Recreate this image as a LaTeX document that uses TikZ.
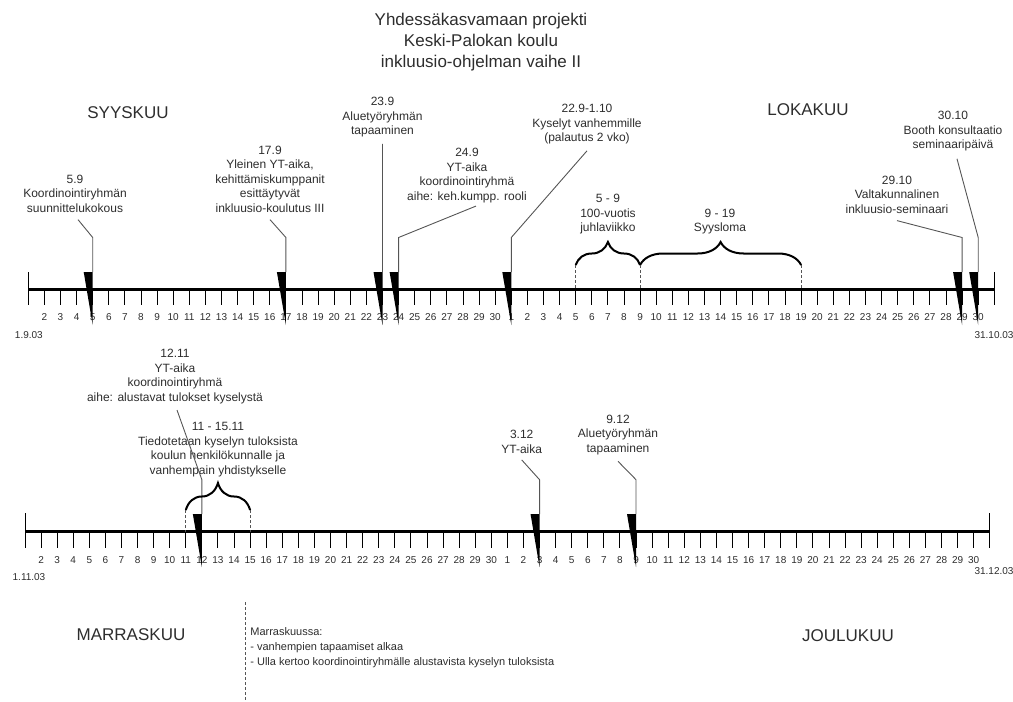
\documentclass[tikz,border=0pt]{standalone}
\usepackage{fontspec}
\setmainfont{Liberation Sans}
\usetikzlibrary{decorations.pathreplacing}
\definecolor{txtgray}{RGB}{45,45,45}
\definecolor{linegray}{RGB}{85,85,85}
\tikzset{every picture/.style={line width=0.75pt}}
\tikzset{
  evt/.style={align=center, inner sep=0pt, text=txtgray, font=\fontsize{12}{14.5}\selectfont},
  month/.style={inner sep=0pt, text=txtgray, font=\fontsize{17}{21}\selectfont},
  daynum/.style={inner sep=0pt, text=txtgray, font=\fontsize{10}{12}\selectfont},
  conn/.style={draw=linegray, line width=0.9pt},
  daytick/.style={line width=1pt},
  timeaxis/.style={line width=3.3pt},
  bracebar/.style={decorate, decoration={brace, amplitude=#1}, line width=2pt},
  spanline/.style={draw=linegray, dash pattern=on 3pt off 2pt, line width=0.9pt}
}
% marker wedge at a day: #1 name, #2 day coordinate
\newcommand\daymarker[2]{%
  \fill ([xshift=-9pt,yshift=-17.5pt]#2) -- ([yshift=-17.5pt]#2) -- ([yshift=35.5pt]#2) -- cycle;
  \coordinate (#1-top) at ([yshift=-17.5pt]#2);
  \coordinate (#1-bend) at ([yshift=-52pt]#2);
}

\begin{document}
\begin{tikzpicture}[x=1pt,y=1pt,yscale=-1,xscale=1]
\useasboundingbox (0,0) rectangle (1013,702);

% Title
\node[month, align=center] (title) at (481,42) {Yhdessäkasvamaan projekti\\Keski-Palokan koulu\\inkluusio-ohjelman vaihe II};

% Months
\node[month] (syys) at (128,113) {SYYSKUU};
\node[month] (loka) at (808,110) {LOKAKUU};
\node[month] (marras) at (131,635) {MARRASKUU};
\node[month] (joulu) at (848,636) {JOULUKUU};

% Day ticks: t = syys-lokakuu, b = marras-joulukuu
\foreach \i in {0,...,60}{
  \coordinate (t\i) at (28.3+\i*16.1,289.5);
  \coordinate (b\i) at (25+\i*16.08,531.7);
  \pgfmathtruncatemacro\d{\i<30 ? \i+1 : \i-29}
  \ifnum\i=0
    \draw[daytick] ([yshift=-17.5pt]t\i) -- ([yshift=15.5pt]t\i);
    \draw[daytick] ([yshift=-18.5pt]b\i) -- ([yshift=16.5pt]b\i);
  \else\ifnum\i=60
    \draw[daytick] ([yshift=-17.5pt]t\i) -- ([yshift=15.5pt]t\i);
    \draw[daytick] ([yshift=-18.5pt]b\i) -- ([yshift=16.5pt]b\i);
  \else
    \draw[daytick] (t\i) -- ([yshift=15.5pt]t\i);
    \draw[daytick] (b\i) -- ([yshift=16.5pt]b\i);
    \node[daynum] (tn\i) at ([yshift=27.5pt]t\i) {\d};
    \node[daynum] (bn\i) at ([yshift=28.3pt]b\i) {\d};
  \fi\fi
}
\draw[timeaxis] (t0) -- (t60);
\draw[timeaxis] (b0) -- (b60);

% End dates
\node[daynum] (d1) at (28.9,335) {1.9.03};
\node[daynum] (d2) at (994,335) {31.10.03};
\node[daynum] (d3) at (29,577) {1.11.03};
\node[daynum] (d4) at (994,571) {31.12.03};

% Markers
\daymarker{m5}{t4}
\daymarker{m17}{t16}
\daymarker{m23}{t22}
\daymarker{m24}{t23}
\daymarker{m1}{t30}
\daymarker{m29}{t58}
\daymarker{m30}{t59}
\daymarker{m12}{b11}
\daymarker{m3}{b32}
\daymarker{m9}{b38}

% Event texts
\node[evt] (e5) at (75,193.5) {5.9\\Koordinointiryhmän\\suunnittelukokous};
\node[evt] (e17) at (270,179) {17.9\\Yleinen YT-aika,\\kehittämiskumppanit\\esittäytyvät\\inkluusio-koulutus III};
\node[evt] (e23) at (382.5,117.5) {23.9\\Aluetyöryhmän\\tapaaminen};
\node[evt] (e24) at (467,175.5) {24.9\\YT-aika\\koordinointiryhmä\\aihe: keh.kumpp. rooli};
\node[evt] (e1) at (587,124.5) {22.9-1.10\\Kyselyt vanhemmille\\(palautus 2 vko)};
\node[evt] (e29) at (897,194.5) {29.10\\Valtakunnalinen\\inkluusio-seminaari};
\node[evt] (e30) at (953,131.5) {30.10\\Booth konsultaatio\\seminaaripäivä};
\node[evt] (juhla) at (608,214.5) {5 - 9\\100-vuotis\\juhlaviikko};
\node[evt] (loma) at (720,221.5) {9 - 19\\Syysloma};
\node[evt] (e12) at (175,376.5) {12.11\\YT-aika\\koordinointiryhmä\\aihe: alustavat tulokset kyselystä};
\node[evt] (tied) at (218,449.5) {11 - 15.11\\Tiedotetaan kyselyn tuloksista\\koulun henkilökunnalle ja\\vanhempain yhdistykselle};
\node[evt] (e3) at (521.7,442) {3.12\\YT-aika};
\node[evt] (e9) at (618,435) {9.12\\Aluetyöryhmän\\tapaaminen};

% Connectors
\draw[conn] ([xshift=3pt,yshift=7pt]e5.south) -- (m5-bend) -- (m5-top);
\draw[conn] ([yshift=7pt]e17.south) -- (m17-bend) -- (m17-top);
\draw[conn] ([yshift=6pt]e23.south) -- (m23-top);
\draw[conn] ([xshift=9pt,yshift=3pt]e24.south) -- (m24-bend) -- (m24-top);
\draw[conn] ([yshift=6pt]e1.south) -- (m1-bend) -- (m1-top);
\draw[conn] ([yshift=7pt]e29.south) -- (m29-bend) -- (m29-top);
\draw[conn] ([xshift=4pt,yshift=7pt]e30.south) -- (m30-bend) -- (m30-top);
\draw[conn] ([xshift=2pt,yshift=6pt]e12.south) -- (m12-bend) -- (m12-top);
\draw[conn] ([yshift=6pt]e3.south) -- (m3-bend) -- (m3-top);
\draw[conn] ([yshift=6pt]e9.south) -- (m9-bend) -- (m9-top);

% Braces
\draw[bracebar=23pt] ([yshift=-24.5pt]t34) -- ([yshift=-24.5pt]t38);
\draw[bracebar=23pt] ([yshift=-24.5pt]t38) -- ([yshift=-24.5pt]t48);
\draw[bracebar=27pt] ([yshift=-21.7pt]b10) -- ([yshift=-21.7pt]b14);
\draw[spanline] ([yshift=-24.5pt]t34) -- (t34);
\draw[spanline] ([yshift=-24.5pt]t38) -- (t38);
\draw[spanline] ([yshift=-24.5pt]t48) -- (t48);
\draw[spanline] ([yshift=-21.7pt]b10) -- (b10);
\draw[spanline] ([yshift=-21.7pt]b14) -- (b14);

% November note
\draw[spanline] (245,602) -- (245,702);
\node[align=left, anchor=west, inner sep=0pt, text=txtgray, font=\fontsize{11}{15}\selectfont] (note) at (250,648) {Marraskuussa:\\- vanhempien tapaamiset alkaa\\- Ulla kertoo koordinointiryhmälle alustavista kyselyn tuloksista};

\end{tikzpicture}
\end{document}
